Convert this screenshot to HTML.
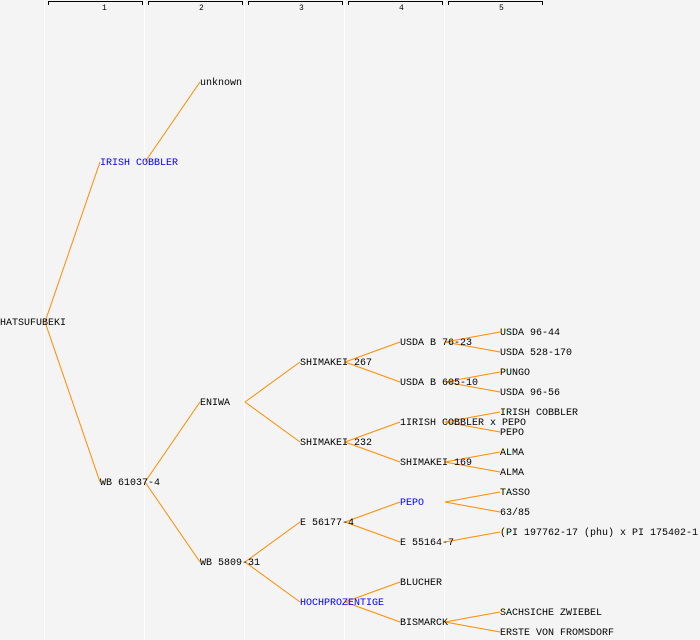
<!DOCTYPE html>
<html><head><meta charset="utf-8"><style>
html,body{margin:0;padding:0;background:#f4f4f4;}
svg{display:block;}
text{font-family:"Liberation Mono","DejaVu Sans Mono",monospace;font-size:10px;fill:#000;}
.b{fill:#0000ff;}
.h{font-size:8px;}
</style></head><body>
<svg width="700" height="640" xmlns="http://www.w3.org/2000/svg">
<rect width="700" height="640" fill="#f4f4f4"/>
<g stroke="#ffffff" stroke-width="1">
<line x1="44.5" y1="0" x2="44.5" y2="640"/><line x1="144.5" y1="0" x2="144.5" y2="640"/><line x1="244.5" y1="0" x2="244.5" y2="640"/><line x1="344.5" y1="0" x2="344.5" y2="640"/><line x1="444.5" y1="0" x2="444.5" y2="640"/>
</g>
<g stroke="#000" fill="none" stroke-width="1">
<path d="M48.5,5V1.5H142.5V5"/><path d="M148.5,5V1.5H242.5V5"/><path d="M248.5,5V1.5H342.5V5"/><path d="M348.5,5V1.5H442.5V5"/><path d="M448.5,5V1.5H542.5V5"/>
</g>
<g class="h"><text class="h" x="102" y="10">1</text><text class="h" x="199" y="10">2</text><text class="h" x="299" y="10">3</text><text class="h" x="399" y="10">4</text><text class="h" x="499" y="10">5</text></g>
<g stroke="#ff8c00" stroke-width="1" fill="none">
<line x1="45" y1="322" x2="100" y2="162"/><line x1="45" y1="322" x2="100" y2="482"/>
<line x1="145" y1="162" x2="200" y2="82"/>
<line x1="145" y1="482" x2="200" y2="402"/><line x1="145" y1="482" x2="200" y2="562"/>
<line x1="245" y1="402" x2="300" y2="362"/><line x1="245" y1="402" x2="300" y2="442"/>
<line x1="245" y1="562" x2="300" y2="522"/><line x1="245" y1="562" x2="300" y2="602"/>
<line x1="345" y1="362" x2="400" y2="342"/><line x1="345" y1="362" x2="400" y2="382"/>
<line x1="345" y1="442" x2="400" y2="422"/><line x1="345" y1="442" x2="400" y2="462"/>
<line x1="345" y1="522" x2="400" y2="502"/><line x1="345" y1="522" x2="400" y2="542"/>
<line x1="345" y1="602" x2="400" y2="582"/><line x1="345" y1="602" x2="400" y2="622"/>
<line x1="445" y1="342" x2="500" y2="332"/><line x1="445" y1="342" x2="500" y2="352"/>
<line x1="445" y1="382" x2="500" y2="372"/><line x1="445" y1="382" x2="500" y2="392"/>
<line x1="445" y1="422" x2="500" y2="412"/><line x1="445" y1="422" x2="500" y2="432"/>
<line x1="445" y1="462" x2="500" y2="452"/><line x1="445" y1="462" x2="500" y2="472"/>
<line x1="445" y1="502" x2="500" y2="492"/><line x1="445" y1="502" x2="500" y2="512"/>
<line x1="445" y1="542" x2="500" y2="532"/>
<line x1="445" y1="622" x2="500" y2="612"/><line x1="445" y1="622" x2="500" y2="632"/>
</g>
<g>
<text x="0" y="325">HATSUFUBEKI</text>
<text x="100" y="165" class="b">IRISH COBBLER</text>
<text x="100" y="485">WB 61037-4</text>
<text x="200" y="85">unknown</text>
<text x="200" y="405">ENIWA</text>
<text x="200" y="565">WB 5809-31</text>
<text x="300" y="365">SHIMAKEI 267</text>
<text x="300" y="445">SHIMAKEI 232</text>
<text x="300" y="525">E 56177-4</text>
<text x="300" y="605" class="b">HOCHPROZENTIGE</text>
<text x="400" y="345">USDA B 76-23</text>
<text x="400" y="385">USDA B 605-10</text>
<text x="400" y="425">1IRISH COBBLER x PEPO</text>
<text x="400" y="465">SHIMAKEI 169</text>
<text x="400" y="505" class="b">PEPO</text>
<text x="400" y="545">E 55164-7</text>
<text x="400" y="585">BLUCHER</text>
<text x="400" y="625">BISMARCK</text>
<text x="500" y="335">USDA 96-44</text>
<text x="500" y="355">USDA 528-170</text>
<text x="500" y="375">PUNGO</text>
<text x="500" y="395">USDA 96-56</text>
<text x="500" y="415">IRISH COBBLER</text>
<text x="500" y="435">PEPO</text>
<text x="500" y="455">ALMA</text>
<text x="500" y="475">ALMA</text>
<text x="500" y="495">TASSO</text>
<text x="500" y="515">63/85</text>
<text x="500" y="535">(PI 197762-17 (phu) x PI 175402-1</text>
<text x="500" y="615">SACHSICHE ZWIEBEL</text>
<text x="500" y="635">ERSTE VON FROMSDORF</text>
</g>
</svg>
</body></html>
